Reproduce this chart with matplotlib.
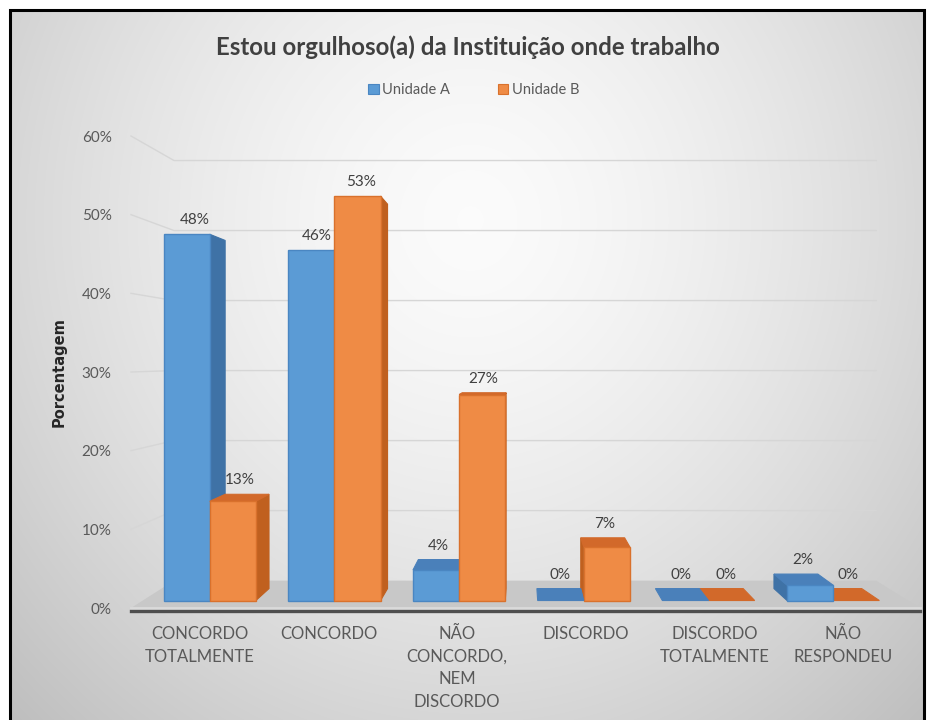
import numpy as np
import matplotlib
matplotlib.use("Agg")
import matplotlib.pyplot as plt
from matplotlib.patches import Polygon, Rectangle, Patch

# ---------------- data ----------------
categories = ["CONCORDO\nTOTALMENTE", "CONCORDO", "NÃO\nCONCORDO,\nNEM\nDISCORDO",
              "DISCORDO", "DISCORDO\nTOTALMENTE", "NÃO\nRESPONDEU"]
series_names = ["Unidade A", "Unidade B"]
unidade_a = [48, 46, 4, 0, 0, 2]
unidade_b = [13, 53, 27, 7, 0, 0]
yticks = [0, 10, 20, 30, 40, 50, 60]
ytick_labels = [f"{v}%" for v in yticks]
title = "Estou orgulhoso(a) da Instituição onde trabalho"
ylabel = "Porcentagem"

# ---------------- style ----------------
FONT = ["Lato", "DejaVu Sans"]
plt.rcParams["font.family"] = FONT
TXT = "#595959"
front_col = ["#5b9bd5", "#ef8b45"]
edge_col = ["#4a86c2", "#d9712c"]
side_col = ["#3f72a6", "#c0601f"]
top_col = ["#4a80ba", "#d2692a"]

W, H = 934, 720
fig = plt.figure(figsize=(W / 100, H / 100), dpi=100)
fig.patch.set_facecolor("white")

# background gradient inside frame
bg = fig.add_axes([10 / W, 0, 914 / W, 1 - 10 / H])
yy, xx = np.mgrid[0:710, 0:914]
r = np.sqrt(((xx + 10 - 470) / 580.0) ** 2 + ((yy + 10 - 220) / 620.0) ** 2)
g = np.clip(0.985 - 0.20 * r ** 1.5, 0, 1)
bg.imshow(np.dstack([g, g, g]), aspect="auto", extent=(0, 1, 0, 1), origin="upper")
bg.axis("off")

# frame border
fig.patches.append(Rectangle((10 / W, -0.01), 914 / W, 1 - 10 / H + 0.01,
                             transform=fig.transFigure, fill=False,
                             ec="black", lw=2.2, zorder=10))

# main axes = front plane of 3D box
ax = fig.add_axes([131 / W, (H - 608) / H, 789 / W, 472 / H])
XL, XR = -0.537, 5.6
ax.set_xlim(XL, XR)
ax.set_ylim(0, 60)
ax.patch.set_alpha(0)
for s in ax.spines.values():
    s.set_visible(False)

XV, YV = 2.504, 31.65      # vanishing point (data coords)
Z0, Z1 = 0.03, 0.078       # bar depth range
KW = 0.11                  # back wall depth
BW = 0.37                  # bar width


def proj(x, y, z):
    return (x + z * (XV - x), y + z * (YV - y))


# gridlines (left wall + back wall)
for v in yticks[1:]:
    p0 = (XL, v)
    p1 = proj(XL, v, KW)
    p2 = proj(XR, v, KW)
    ax.plot([p0[0], p1[0], p2[0]], [p0[1], p1[1], p2[1]], color="#d6d6d6",
            lw=1.0, zorder=1, clip_on=False)

# floor
floor = Polygon([proj(XL, 0, 0), proj(XR, 0, 0), proj(XR, 0, KW), proj(XL, 0, KW)],
                closed=True, fc="#c8c8c8", ec="none", zorder=2, clip_on=False)
ax.add_patch(floor)
ax.plot([XL, XR], [-0.05, -0.05], color="#dadada", lw=2.0, zorder=2.5, clip_on=False)
ax.plot([XL, XR], [-0.35, -0.35], color="#4f4f4f", lw=2.4, zorder=2.6, clip_on=False)

# bars
bars = []
for s, vals in enumerate([unidade_a, unidade_b]):
    for i, h in enumerate(vals):
        x0 = i - BW + s * BW
        bars.append((s, i, x0, x0 + BW, h))
bars.sort(key=lambda b: -abs((b[2] + b[3]) / 2 - XV))

z = 3
for s, i, x0, x1, h in bars:
    cx = (x0 + x1) / 2
    xs = x1 if cx < XV else x0
    if h > 0:
        side = Polygon([proj(xs, 0, Z0), proj(xs, 0, Z1), proj(xs, h, Z1), proj(xs, h, Z0)],
                       closed=True, fc=side_col[s], ec=side_col[s], lw=0.8,
                       zorder=z, clip_on=False)
        ax.add_patch(side)
    if h < YV:
        top = Polygon([proj(x0, h, Z0), proj(x1, h, Z0), proj(x1, h, Z1), proj(x0, h, Z1)],
                      closed=True, fc=top_col[s], ec=top_col[s], lw=0.8,
                      zorder=z, clip_on=False)
        ax.add_patch(top)
    fl, fb = proj(x0, 0, Z0)
    fr, ft = proj(x1, h, Z0)
    if h > 0:
        ax.bar(fl, ft - fb, width=fr - fl, bottom=fb, align="edge",
               color=front_col[s], edgecolor=edge_col[s], lw=1.0,
               zorder=z + 0.5, clip_on=False)
    z += 1
    ly = max(proj(cx, h, Z0)[1], proj(cx, h, Z1)[1])
    lx = proj(cx, h, (Z0 + Z1) / 2)[0]
    ax.annotate(f"{h:.0f}%", (lx, ly), xytext=(0, 14), textcoords="offset pixels",
                ha="center", va="center", fontsize=11, color="#404040", zorder=30,
                annotation_clip=False)

# axes ticks
ax.set_yticks(yticks)
ax.set_yticklabels(ytick_labels)
ax.set_xticks(range(len(categories)))
ax.set_xticklabels(categories, linespacing=1.5)
ax.tick_params(axis="y", length=0, pad=14, labelsize=11, labelcolor=TXT)
ax.tick_params(axis="x", length=0, pad=13, labelsize=12, labelcolor=TXT)

# title, legend, y label
fig.text(468 / W, 1 - 47 / H, title, ha="center", va="center", fontsize=17.3,
         fontweight="bold", color="#404040")
handles = [Patch(fc=front_col[k], ec=edge_col[k], lw=0.8) for k in range(2)]
fig.legend(handles, series_names, loc="center", bbox_to_anchor=(474 / W, 1 - 90 / H),
           ncol=2, frameon=False, handlelength=0.7, handleheight=0.7,
           handletextpad=0.25, columnspacing=3.3, fontsize=10.5, labelcolor=TXT)
fig.text(59 / W, 1 - 372 / H, ylabel, rotation=90, ha="center", va="center",
         fontsize=10.5, fontweight="bold", color="#262626",
         family=["Liberation Sans Narrow", "DejaVu Sans"])

fig.savefig("out.png", dpi=100)
